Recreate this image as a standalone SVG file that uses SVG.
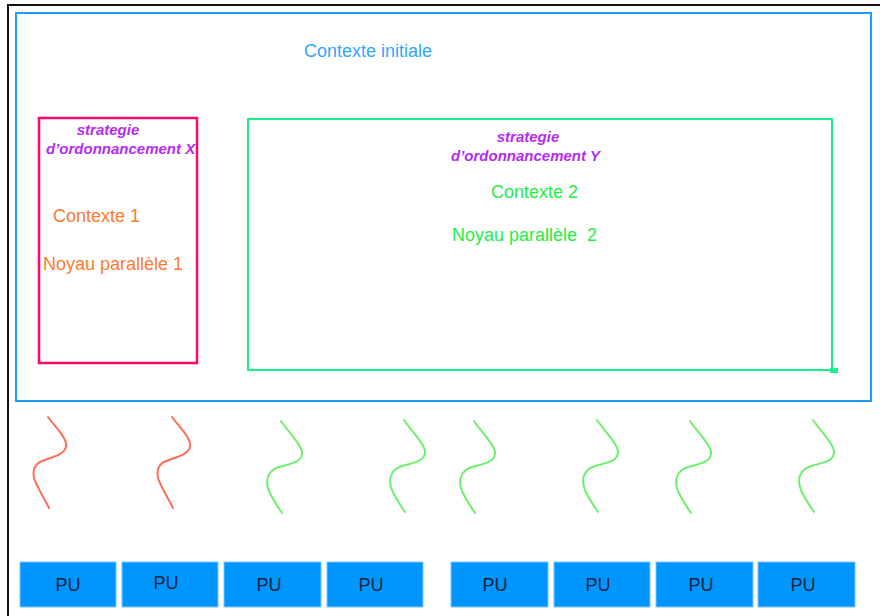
<svg xmlns="http://www.w3.org/2000/svg" width="880" height="616" viewBox="0 0 880 616">
<style>
.strat{font-family:"Liberation Sans",Arial,sans-serif;font-size:15px;font-weight:bold;font-style:italic;fill:#b42cf5}
.t{font-family:"Liberation Sans",Arial,sans-serif;font-size:18px}
.pu rect{fill:#0096ff;stroke:#7cc4ff;stroke-width:1}
.pu text{font-family:"Liberation Sans",Arial,sans-serif;font-size:18px;fill:#0b2340;text-anchor:middle}
.wr{fill:none;stroke:#ff6e5a;stroke-width:2;stroke-linecap:round}
.wg{fill:none;stroke:#6ef06e;stroke-width:2;stroke-linecap:round}
</style>
<defs>
<path id="sr" d="M0,0 C8,11 20,22 18,30 C16,38 4,40 -6,44 C-16,48 -16,58 -12,66 C-8,75 -3,83 1,91"/>
<path id="sg" d="M0,0 C8,12 22,25 21,33 C20,42 8,43 -2,46 C-14,50 -16,60 -12,70 C-8,79 -3,86 1,92"/>
</defs>
<rect width="880" height="616" fill="#ffffff"/>
<g id="frame"><path d="M8,616 V5 H880" fill="none" stroke="#111" stroke-width="2"/></g>
<g id="contexte-initiale">
<rect x="16" y="13" width="855" height="388" fill="none" stroke="#1e9bff" stroke-width="2"/>
<text class="t" x="304" y="57" fill="#33a6ff">Contexte initiale</text>
</g>
<g id="noyau1">
<rect x="39" y="118" width="158" height="245" fill="none" stroke="#ff0a6c" stroke-width="2.5"/>
<text class="strat" x="108" y="135" text-anchor="middle">strategie</text>
<text class="strat" x="46" y="154">d’ordonnancement X</text>
<text class="t" x="53" y="222" fill="#ff7a2e">Contexte 1</text>
<text class="t" x="43" y="270" fill="#ff7a2e">Noyau parallèle 1</text>
</g>
<g id="noyau2">
<rect x="248" y="119" width="584" height="251" fill="none" stroke="#18f08c" stroke-width="2"/>
<rect x="830" y="368" width="8" height="5" fill="#18f08c"/>
<text class="strat" x="528" y="142" text-anchor="middle">strategie</text>
<text class="strat" x="451" y="161">d’ordonnancement Y</text>
<text class="t" x="491" y="198" fill="#22ee44">Contexte 2</text>
<text class="t" x="452" y="241" fill="#22ee44" xml:space="preserve">Noyau parallèle  2</text>
</g>
<g id="connectors">
<use href="#sr" x="48" y="417" class="wr"/>
<use href="#sr" x="172" y="417" class="wr"/>
<use href="#sg" x="281" y="421" class="wg"/>
<use href="#sg" x="404" y="420" class="wg"/>
<use href="#sg" x="474" y="421" class="wg"/>
<use href="#sg" x="597" y="420" class="wg"/>
<use href="#sg" x="690" y="421" class="wg"/>
<use href="#sg" x="813" y="420" class="wg"/>
</g>
<g id="pu1" class="pu"><rect x="20" y="562" width="96" height="45"/><text x="68" y="591">PU</text></g>
<g id="pu2" class="pu"><rect x="122" y="562" width="96" height="45"/><text x="166" y="589">PU</text></g>
<g id="pu3" class="pu"><rect x="224" y="562" width="97" height="45"/><text x="269" y="591">PU</text></g>
<g id="pu4" class="pu"><rect x="327" y="562" width="96" height="45"/><text x="371" y="591">PU</text></g>
<g id="pu5" class="pu"><rect x="451" y="562" width="97" height="45"/><text x="495" y="591">PU</text></g>
<g id="pu6" class="pu"><rect x="554" y="562" width="96" height="45"/><text x="598" y="591">PU</text></g>
<g id="pu7" class="pu"><rect x="656" y="562" width="97" height="45"/><text x="701" y="591">PU</text></g>
<g id="pu8" class="pu"><rect x="758" y="562" width="97" height="45"/><text x="803" y="591">PU</text></g>
</svg>
